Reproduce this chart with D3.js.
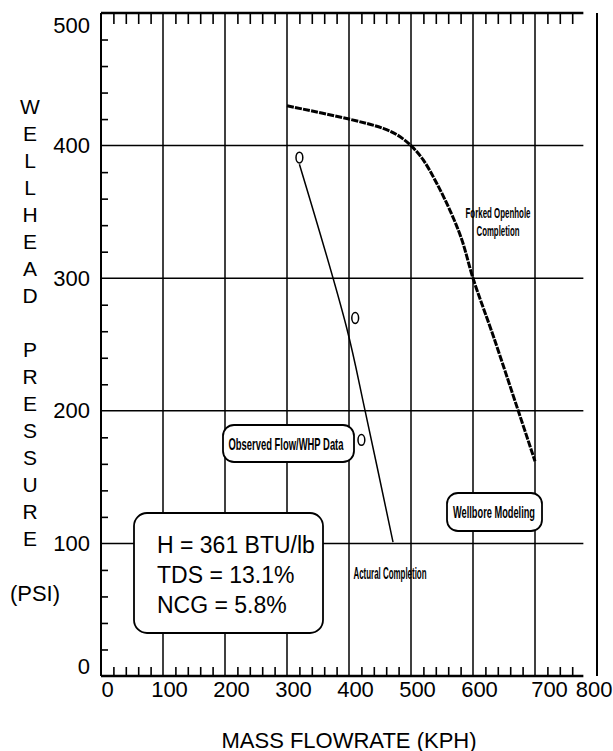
<!DOCTYPE html>
<html lang="en">
<head>
<meta charset="UTF-8">
<title>Wellhead pressure vs mass flowrate</title>
<script src="https://d3js.org/d3.v7.min.js"></script>
<style>
  body { margin: 0; background: #fff; }
  svg { display: block; }
  text { font-family: "Liberation Sans", Arial, sans-serif; fill: #000; }
  .narrow { font-family: "Liberation Sans Narrow", "Arial Narrow", "Liberation Sans", sans-serif; }
</style>
</head>
<body>
<script>
// data
var xTicks = [0, 100, 200, 300, 400, 500, 600, 700, 800];
var yTicks = [0, 100, 200, 300, 400, 500];

// forked openhole completion (wellbore modeling curve)
var forkedFlow = [300, 400, 455, 478, 500, 520, 541, 563, 582, 600, 633, 673, 700];
var forkedWhp  = [430, 420, 413, 408, 400, 389, 372, 351, 329, 300, 256, 200, 162];

// actual completion curve
var actualFlow = [320, 396, 426, 471];
var actualWhp  = [386, 263, 200, 101];

// observed flow / WHP points
var obsFlow = [320, 410, 420];
var obsWhp  = [391, 270, 178];

var infoLines = ["H = 361 BTU/lb", "TDS = 13.1%", "NCG = 5.8%"];
var yTitle = "WELLHEAD PRESSURE";

var width = 613, height = 751;

var svg = d3.select("body").append("svg")
    .attr("width", width).attr("height", height);
svg.append("rect").attr("width", width).attr("height", height).attr("fill", "#fff");

var x = d3.scaleLinear().domain([0, 800]).range([101, 597]);
var y = d3.scaleLinear().domain([0, 500]).range([676, 13]);

var xEnd = 778; // box edges stop short of 800
var minorX = d3.range(20, 780, 20).filter(function(v) { return v % 100 != 0; });
var minorY = d3.range(20, 500, 20).filter(function(v) { return v % 100 != 0; });

// grid
svg.append("g").selectAll("line")
    .data(xTicks.filter(function(v) { return v > 0 && v < 800; }))
    .enter().append("line")
    .attr("x1", function(d) { return x(d); }).attr("x2", function(d) { return x(d); })
    .attr("y1", y(500)).attr("y2", y(0))
    .attr("stroke", "#000").attr("stroke-width", 1.5);

svg.append("line")
    .attr("x1", x(800)).attr("x2", x(800))
    .attr("y1", y(500)).attr("y2", y(0))
    .attr("stroke", "#000").attr("stroke-width", 2);

svg.append("g").selectAll("line")
    .data(yTicks.filter(function(v) { return v > 0 && v < 500; }))
    .enter().append("line")
    .attr("x1", x(0)).attr("x2", x(xEnd))
    .attr("y1", function(d) { return y(d); }).attr("y2", function(d) { return y(d); })
    .attr("stroke", "#000").attr("stroke-width", 1.5);

// minor ticks
function noDomain(g) { g.select(".domain").remove(); g.selectAll(".tick line").attr("stroke", "#000").attr("stroke-width", 1.6); }

svg.append("g")
    .attr("transform", "translate(0," + y(500) + ")")
    .call(d3.axisBottom(x).tickValues(minorX).tickSize(11).tickFormat(""))
    .call(noDomain);
svg.append("g")
    .attr("transform", "translate(0," + y(0) + ")")
    .call(d3.axisTop(x).tickValues(minorX).tickSize(9).tickFormat(""))
    .call(noDomain);
svg.append("g")
    .attr("transform", "translate(" + x(0) + ",0)")
    .call(d3.axisRight(y).tickValues(minorY).tickSize(7).tickFormat(""))
    .call(noDomain);

// frame
svg.append("line").attr("x1", x(0)).attr("x2", x(xEnd)).attr("y1", y(500)).attr("y2", y(500))
    .attr("stroke", "#000").attr("stroke-width", 2.5);
svg.append("line").attr("x1", x(0)).attr("x2", x(xEnd)).attr("y1", y(0)).attr("y2", y(0))
    .attr("stroke", "#000").attr("stroke-width", 2.5);
svg.append("line").attr("x1", x(0)).attr("x2", x(0)).attr("y1", y(500)).attr("y2", y(0))
    .attr("stroke", "#000").attr("stroke-width", 2);

// tick labels
var xAxis = svg.append("g")
    .attr("transform", "translate(0," + y(0) + ")")
    .call(d3.axisBottom(x).tickValues(xTicks).tickSize(0).tickPadding(5));
xAxis.select(".domain").remove();
xAxis.selectAll("text")
    .attr("font-size", 22).attr("font-family", null)
    .attr("dx", function(d) { return d == 700 ? 14 : 6; })
    .filter(function(d) { return d == 800; })
    .attr("text-anchor", "end").attr("dx", width - 1 - x(800));

var yAxis = svg.append("g")
    .attr("transform", "translate(" + x(0) + ",0)")
    .call(d3.axisLeft(y).tickValues(yTicks).tickSize(0).tickPadding(11));
yAxis.select(".domain").remove();
yAxis.selectAll("text").attr("font-size", 22).attr("font-family", null)
    .attr("dy", function(d) { return d == 500 ? "0.9em" : d == 0 ? "-0.1em" : "0.32em"; });
svg.selectAll(".tick text").style("fill", "#000");

// axis titles
svg.append("g").selectAll("text")
    .data(yTitle.split(""))
    .enter().append("text")
    .attr("x", 30)
    .attr("y", function(d, i) { return 106 + i * 27; })
    .attr("text-anchor", "middle").attr("dominant-baseline", "central")
    .attr("font-size", 21)
    .text(function(d) { return d; });

svg.append("text").attr("x", 35).attr("y", 593)
    .attr("text-anchor", "middle").attr("dominant-baseline", "central")
    .attr("font-size", 22).text("(PSI)");

svg.append("text").attr("x", (x(0) + x(800)) / 2).attr("y", 740)
    .attr("text-anchor", "middle").attr("dominant-baseline", "central")
    .attr("font-size", 22).text("MASS FLOWRATE (KPH)");

// curves
var forked = forkedFlow.map(function(d, i) { return [d, forkedWhp[i]]; });
var actual = actualFlow.map(function(d, i) { return [d, actualWhp[i]]; });
var line = d3.line()
    .x(function(d) { return x(d[0]); })
    .y(function(d) { return y(d[1]); })
    .curve(d3.curveCatmullRom);

svg.append("path").datum(forked)
    .attr("d", line)
    .attr("fill", "none").attr("stroke", "#000")
    .attr("stroke-width", 3).attr("stroke-dasharray", "7,1.2");

svg.append("path").datum(actual)
    .attr("d", line)
    .attr("fill", "none").attr("stroke", "#000").attr("stroke-width", 1.5);

svg.append("g").selectAll("ellipse")
    .data(obsFlow)
    .enter().append("ellipse")
    .attr("cx", function(d) { return x(d); })
    .attr("cy", function(d, i) { return y(obsWhp[i]); })
    .attr("rx", 3.4).attr("ry", 5.4)
    .attr("fill", "#fff").attr("stroke", "#000").attr("stroke-width", 1.5);

// labels and boxes
function box(x0, y0, x1, y1, r) {
    svg.append("rect").attr("x", x0).attr("y", y0)
        .attr("width", x1 - x0).attr("height", y1 - y0)
        .attr("rx", r).attr("ry", r)
        .attr("fill", "#fff").attr("stroke", "#000").attr("stroke-width", 1.8);
}
function narrow(txt, cx, cy, w, fs) {
    svg.append("text").attr("class", "narrow")
        .attr("x", cx).attr("y", cy)
        .attr("text-anchor", "middle").attr("dominant-baseline", "central")
        .attr("font-size", fs).attr("font-weight", "bold")
        .attr("textLength", w).attr("lengthAdjust", "spacingAndGlyphs")
        .text(txt);
}

box(223, 425, 354, 462, 11);
narrow("Observed Flow/WHP Data", 286, 444, 115, 17);

box(447, 493, 542, 531, 11);
narrow("Wellbore Modeling", 494, 512, 82, 17);

narrow("Forked Openhole", 498, 212, 65, 15);
narrow("Completion", 498, 230, 43, 15);
narrow("Actural Completion", 390, 573, 73, 16);

box(134, 513, 323, 633, 13);
svg.append("g").selectAll("text")
    .data(infoLines)
    .enter().append("text")
    .attr("x", 157)
    .attr("y", function(d, i) { return 545 + i * 30; })
    .attr("dominant-baseline", "central")
    .attr("font-size", 23)
    .text(function(d) { return d; });
</script>
</body>
</html>
